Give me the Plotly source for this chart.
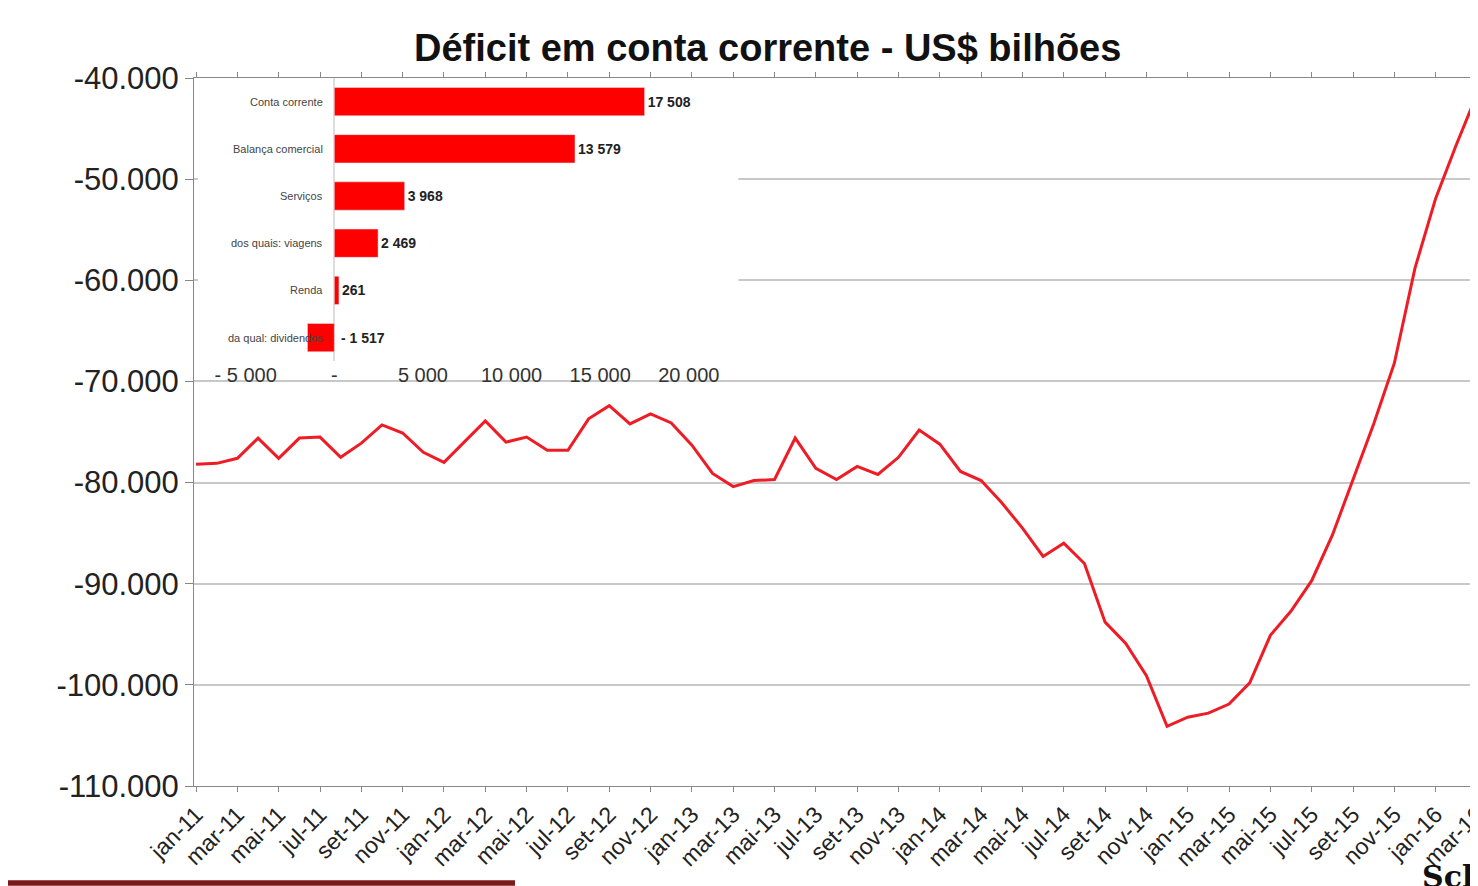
import plotly.graph_objects as go

pt_months = ["jan", "fev", "mar", "abr", "mai", "jun", "jul", "ago", "set", "out", "nov", "dez"]
months = [f"{pt_months[i % 12]}-{11 + i // 12}" for i in range(63)]

deficit = [
    -78200, -78100, -77600, -75600, -77600, -75600, -75500, -77500, -76100, -74300, -75100, -77000,
    -78000, -76000, -73900, -76000, -75500, -76800, -76800, -73700, -72400, -74200, -73200, -74100,
    -76300, -79100, -80400, -79800, -79700, -75600, -78600, -79700, -78400, -79200, -77500, -74800,
    -76200, -78900, -79800, -82000, -84500, -87300, -86000, -88000, -93800, -95900, -99100, -104100,
    -103200, -102800, -101900, -99800, -95100, -92700, -89700, -85200, -79600, -74200, -68200, -58800,
    -51900, -46600, -41600,
]

bar_labels = ["Conta corrente", "Balança comercial", "Serviços", "dos quais: viagens", "Renda", "da qual: dividendos"]
bar_values = [17508, 13579, 3968, 2469, 261, -1517]
bar_text = ["17 508", "13 579", "3 968", "2 469", "261", "- 1 517"]

y_ticks = [-40000, -50000, -60000, -70000, -80000, -90000, -100000, -110000]
y_ticktext = ["-40.000", "-50.000", "-60.000", "-70.000", "-80.000", "-90.000", "-100.000", "-110.000"]
inset_ticks = [-5000, 0, 5000, 10000, 15000, 20000]
inset_ticktext = ["- 5 000", "-", "5 000", "10 000", "15 000", "20 000"]

fig = go.Figure()
fig.add_trace(go.Scatter(x=months, y=deficit, mode="lines", line=dict(color="#ee1c25", width=3), showlegend=False))
fig.add_trace(go.Bar(
    x=bar_values, y=bar_labels, orientation="h", xaxis="x2", yaxis="y2",
    marker_color="#ff0000",
    text=[f"<b>{t}</b>" if v > 0 else "" for t, v in zip(bar_text, bar_values)],
    textposition="outside",
    textfont=dict(size=14, color="#222", family="Liberation Sans"), cliponaxis=False,
    width=0.6, showlegend=False,
))

annotations = [
    dict(text=lab, xref="x2", yref="y2", x=-550, y=lab, xanchor="right", showarrow=False,
         font=dict(size=11, color="#444"))
    for lab in bar_labels
]
annotations += [
    dict(text=f"<b>{t}</b>", xref="x2", yref="y2", x=250, y=lab, xanchor="left", showarrow=False,
         font=dict(size=14, color="#222"))
    for t, v, lab in zip(bar_text, bar_values, bar_labels) if v < 0
]
annotations.append(
    dict(text="<b>Sch</b>", xref="paper", yref="paper", x=0.955, y=-0.155, xanchor="left",
         yanchor="bottom", showarrow=False, font=dict(size=30, family="DejaVu Serif", color="#111"))
)

fig.update_layout(
    width=1478, height=886,
    margin=dict(l=186, r=8, t=70, b=108),
    paper_bgcolor="white", plot_bgcolor="white",
    font=dict(family="Liberation Sans, Arial", color="#222"),
    title=dict(text="<b>Déficit em conta corrente - US$ bilhões</b>", x=0.514, xanchor="center",
               y=0.97, font=dict(size=38, color="#111")),
    xaxis=dict(tickvals=months[::2], tickangle=-45, tickfont=dict(size=23), showline=True,
               linecolor="#888", ticks="outside", tickcolor="#888", mirror="allticks",
               range=[-0.1, 62.05], showgrid=False, automargin=False),
    yaxis=dict(range=[-110000, -40000], tickvals=y_ticks, ticktext=y_ticktext, tickfont=dict(size=31),
               showgrid=True, gridcolor="#c8c8c8", gridwidth=1.5, showline=True, linecolor="#888",
               ticks="outside", tickcolor="#888", ticklen=8, zeroline=False, automargin=False),
    xaxis2=dict(domain=[0.003, 0.424], anchor="y2", range=[-7700, 22800], tickvals=inset_ticks,
                ticktext=inset_ticktext, tickangle=0, tickfont=dict(size=20, color="#333"), showgrid=False,
                zeroline=True, zerolinecolor="#ddd", showline=False, automargin=False),
    yaxis2=dict(domain=[0.60, 1.0], anchor="x2", autorange="reversed", showticklabels=False,
                showgrid=False, showline=False, automargin=False),
    bargap=0.35,
    shapes=[
        dict(type="rect", xref="paper", yref="paper", x0=0.003, x1=0.424, y0=0.545, y1=1.015,
             fillcolor="white", line=dict(width=0), layer="between"),
        dict(type="rect", xref="paper", yref="paper", x0=-0.145, x1=0.25, y0=-0.141, y1=-0.133,
             fillcolor="#7a1a1a", line=dict(width=0)),
    ],
    annotations=annotations,
)

fig.write_html("out.html")
